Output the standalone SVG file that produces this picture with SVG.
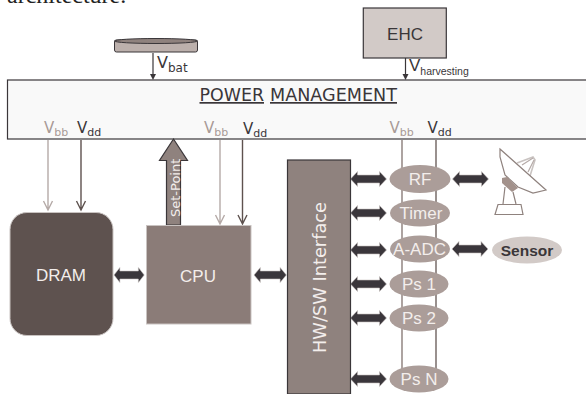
<svg xmlns="http://www.w3.org/2000/svg" width="586" height="394" viewBox="0 0 586 394">
<style>
text{font-family:"Liberation Sans",Arial,sans-serif}
.v{font-family:"DejaVu Sans",sans-serif;font-size:15px;fill:#3a3639}
.vb{font-family:"DejaVu Sans",sans-serif;font-size:15px;fill:#a89a96}
.s{font-size:11px}
.w{fill:#f3eeec;font-size:17px;text-anchor:middle}
.e{fill:#ab9d99}
.rail{fill:none;stroke-width:1.4}
.lite{stroke:#b5aaa7}
.dark{stroke:#8a7d79}
.pm{font-family:"DejaVu Sans",sans-serif;font-size:17px;fill:#3a3639;text-decoration:underline}
.dbl{fill:#3a363b;stroke:#c9c3c1;stroke-width:.6}
</style>
<defs>
<path id="dbl" d="M0 0L7-7.500V-4H29V-7.500L36 0L29 7.500V4H7V7.500Z"/>
</defs>
<text x="7" y="3" style="font-family:'Liberation Serif',serif;font-size:24px;fill:#222">architecture.</text>
<g id="battery"><rect x="114.500" y="40" width="83" height="12" rx="2" fill="#bcb0ac" stroke="#3a3639"/><ellipse cx="156" cy="41" rx="41.500" ry="2.500" fill="#8f827e" stroke="#3a3639"/></g>
<g id="ehc"><rect x="363.300" y="8" width="83" height="50" fill="#d2cac7" stroke="#3a3639" stroke-width="1.200"/><text x="405" y="40" text-anchor="middle" font-size="17" fill="#3a3639">EHC</text></g>
<g id="power-management"><rect x="7.500" y="80" width="600" height="59" fill="#f9f9f9" stroke="#3a3639" stroke-width="1.200"/><text x="199.500" y="101" class="pm" textLength="64.500" lengthAdjust="spacingAndGlyphs">POWER</text><text x="270" y="101" class="pm" textLength="127" lengthAdjust="spacingAndGlyphs">MANAGEMENT</text></g>
<g id="labels">
<text x="157" y="68" class="v" style="font-size:16px">V<tspan class="s" dy="4" style="font-size:12px">bat</tspan></text>
<text x="409" y="71" style="font-size:17px;fill:#3a3639">V<tspan dy="4" font-size="10.500">harvesting</tspan></text>
<text x="44" y="133" class="vb">V<tspan class="s" dy="3">bb</tspan></text><text x="77" y="133" class="v">V<tspan class="s" dy="3">dd</tspan></text>
<text x="204" y="133" class="vb">V<tspan class="s" dy="3">bb</tspan></text><text x="243" y="134" class="v">V<tspan class="s" dy="3">dd</tspan></text>
<text x="389.500" y="133" class="vb">V<tspan class="s" dy="3">bb</tspan></text><text x="427.500" y="133" class="v">V<tspan class="s" dy="3">dd</tspan></text>
</g>
<g id="connectors">
<path d="M153 53V76" stroke="#3a3639" stroke-width="1.200"/><path d="M150 74H156L153 80Z" fill="#3a3639"/>
<path d="M405.500 58V76" stroke="#3a3639" stroke-width="1.200"/><path d="M402.500 74H408.500L405.500 80Z" fill="#3a3639"/>
<path d="M48 140V210M43.500 201L48 210L52.500 201" class="rail lite"/>
<path d="M81 140V210M76.500 201L81 210L85.500 201" class="rail" stroke="#5e524f"/>
<path d="M220 140V224M215.500 215L220 224L224.500 215" class="rail lite"/>
<path d="M242.500 140V224M238 215L242.500 224L247 215" class="rail" stroke="#5e524f"/>
<path d="M402 140V376" class="rail dark"/><path d="M436 140V376" class="rail" stroke="#6e625f"/>
<path d="M166.500 225V160.500H159.500L173.500 139L187.500 160.500H180.500V225Z" fill="#8f827e" stroke="#3a3639" stroke-width="1.200"/>
<use href="#dbl" x="114" y="275" transform="translate(114 275) scale(.84 1) translate(-114 -275)" class="dbl"/>
<use href="#dbl" x="254" y="275" transform="translate(254 275) scale(.9 1) translate(-254 -275)" class="dbl"/>
<use href="#dbl" x="350.500" y="179" class="dbl"/>
<use href="#dbl" x="350.500" y="213" class="dbl"/>
<use href="#dbl" x="350.500" y="250" class="dbl"/>
<use href="#dbl" x="350.500" y="284" class="dbl"/>
<use href="#dbl" x="350.500" y="318" class="dbl"/>
<use href="#dbl" x="350.500" y="379" class="dbl"/>
<use href="#dbl" x="452.500" y="179" class="dbl"/>
<use href="#dbl" x="452" y="249" class="dbl"/>
</g>
<text transform="translate(179.500 217) rotate(-90)" style="font-family:'DejaVu Sans',sans-serif;font-size:13px;fill:#f3eeec">Set-Point</text>
<g id="dram"><rect x="10" y="212.500" width="103" height="123" rx="17" fill="#5e524f" stroke="#c9c3c1"/><text x="61" y="281" class="w">DRAM</text></g>
<g id="cpu"><rect x="146.500" y="225.500" width="104.500" height="98.500" fill="#8b7c78" stroke="#c9c3c1"/><text x="198" y="282" class="w">CPU</text></g>
<g id="hwsw"><rect x="287.500" y="160" width="63" height="234" fill="#8f827e" stroke="#3a3639" stroke-width="1.200"/><text transform="translate(325.500 277.500) rotate(-90)" text-anchor="middle" style="font-family:'DejaVu Sans',sans-serif;font-size:17.500px;fill:#f3eeec" textLength="151" lengthAdjust="spacingAndGlyphs">HW/SW Interface</text></g>
<g id="rf"><ellipse class="e" cx="420" cy="179" rx="30.500" ry="14"/><text x="420" y="185" class="w">RF</text></g>
<g id="timer"><ellipse class="e" cx="420" cy="213" rx="30" ry="13.500"/><text x="421" y="219" class="w">Timer</text></g>
<g id="a-adc"><ellipse class="e" cx="420" cy="249" rx="30" ry="13.500"/><text x="419.500" y="255" class="w">A-ADC</text></g>
<g id="ps1"><ellipse class="e" cx="419" cy="284" rx="29.500" ry="13.500"/><text x="419" y="290" class="w">Ps 1</text></g>
<g id="ps2"><ellipse class="e" cx="419" cy="318" rx="29.500" ry="13.500"/><text x="419" y="324" class="w">Ps 2</text></g>
<g id="psn"><ellipse class="e" cx="419" cy="379" rx="29.500" ry="13.500"/><text x="419" y="385" class="w">Ps N</text></g>
<g id="sensor"><ellipse cx="527" cy="250" rx="35" ry="13.500" fill="#d2cac7"/><text x="527" y="255.500" text-anchor="middle" font-size="15.500" font-weight="bold" fill="#3a3639">Sensor</text></g>
<g id="antenna" fill="none" stroke="#8f827e" stroke-width="1.200">
<path d="M517 163L533 157L535 160L530 176" stroke="#c9c3c1" stroke-width="1.600"/>
<path d="M522 165L533 158M528 172L534 160" stroke="#b5aaa7"/>
<path d="M500 149L546 190L533 193L518 187L505 175L500 157Z" fill="#fff"/>
<path d="M502 178L507 177L518 188L512 192L502 183Z" fill="#a3928c" stroke="none"/>
<path d="M505 187L503 204M513 192L516 204"/>
<path d="M498 204.500H521L523 214.500H495Z"/>
</g>
</svg>
